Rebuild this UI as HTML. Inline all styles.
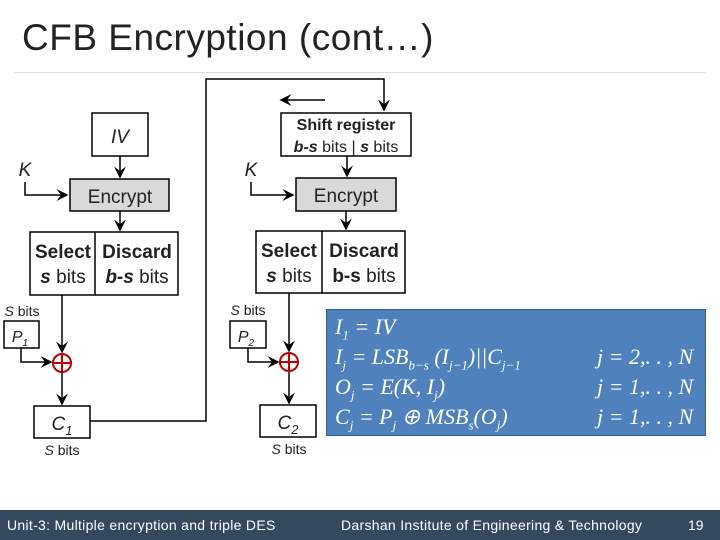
<!DOCTYPE html>
<html><head><meta charset="utf-8"><style>
body{margin:0;width:720px;height:540px;background:#fff;overflow:hidden;position:relative;font-family:"Liberation Sans",sans-serif}
.t{position:absolute;left:22px;top:17px;font-size:37px;color:#222;letter-spacing:0.5px}
.hr{position:absolute;left:15px;top:72px;width:690px;height:1px;background:#ddd}
.ft{position:absolute;left:0;top:510px;width:720px;height:30px;background:#34495e;color:#fff;font-size:14px}
.ft span{position:absolute;top:7px}
.eq{position:absolute;left:326px;top:309px;width:380px;height:127px;background:#4f81bd;border:1px solid #385d8a;color:#fff;font-family:"Liberation Serif",serif;font-style:italic;font-size:22px;line-height:30px;padding:2px 0 0 8px;box-sizing:border-box}
.eq div{position:relative;height:30px}
.eq .r{position:absolute;left:262px}
sub{font-size:13px;line-height:0}
</style></head><body>
<div class="t">CFB Encryption (cont…)</div>
<div class="hr"></div>
<svg width="720" height="510" style="position:absolute;left:0;top:0" font-family="Liberation Sans,sans-serif">
<defs><marker id="a" markerWidth="8" markerHeight="8" refX="7" refY="4" orient="auto"><path d="M0,0 L8,4 L0,8 L3,4 Z" fill="#000"/></marker></defs>
<g stroke="#000" stroke-width="1.5" fill="none">
<rect x="92" y="113" width="56" height="43" fill="#fff"/>
<rect x="70" y="179" width="99" height="32" fill="#d9d9d9"/>
<rect x="30" y="232" width="148" height="63" fill="#fff"/><line x1="95" y1="232" x2="95" y2="295"/>
<rect x="4" y="321" width="35" height="27"/>
<rect x="34" y="406" width="56" height="32"/>
<rect x="281" y="113" width="130" height="43"/>
<rect x="296" y="178" width="100" height="33" fill="#d9d9d9"/>
<rect x="256" y="231" width="149" height="62"/><line x1="322" y1="231" x2="322" y2="293"/>
<rect x="230" y="321" width="36" height="27"/>
<rect x="260" y="405" width="56" height="32"/>
<line x1="120" y1="156" x2="120" y2="177" marker-end="url(#a)"/>
<line x1="120" y1="211" x2="120" y2="230" marker-end="url(#a)"/>
<polyline points="25,182 25,195 67,195" marker-end="url(#a)"/>
<line x1="62" y1="295" x2="62" y2="352" marker-end="url(#a)"/>
<polyline points="21,348 21,362 51,362" marker-end="url(#a)"/>
<line x1="62" y1="372" x2="62" y2="404" marker-end="url(#a)"/>
<polyline points="90,421 206,421 206,79 384,79 384,110" marker-end="url(#a)"/>
<line x1="325" y1="100" x2="281" y2="100" marker-end="url(#a)"/>
<line x1="347" y1="156" x2="347" y2="176" marker-end="url(#a)"/>
<line x1="346" y1="211" x2="346" y2="229" marker-end="url(#a)"/>
<polyline points="251,182 251,195 293,195" marker-end="url(#a)"/>
<line x1="289" y1="293" x2="289" y2="351" marker-end="url(#a)"/>
<polyline points="248,348 248,362 278,362" marker-end="url(#a)"/>
<line x1="289" y1="372" x2="289" y2="403" marker-end="url(#a)"/>
</g>
<g stroke="#c00000" stroke-width="2" fill="none">
<circle cx="62" cy="363" r="9"/><line x1="53" y1="363" x2="71" y2="363"/><line x1="62" y1="354" x2="62" y2="372"/>
<circle cx="289" cy="362" r="9"/><line x1="280" y1="362" x2="298" y2="362"/><line x1="289" y1="353" x2="289" y2="371"/>
</g>
<g fill="#222" font-size="19" text-anchor="middle">
<text x="120" y="143" font-style="italic">IV</text>
<text x="120" y="203">Encrypt</text>
<text x="346" y="202">Encrypt</text>
<text x="346" y="130" font-size="16" font-weight="bold">Shift register</text>
<text x="346" y="152" font-size="16"><tspan font-weight="bold" font-style="italic">b-s</tspan> bits | <tspan font-weight="bold" font-style="italic">s</tspan> bits</text>
<text x="63" y="258" font-weight="bold">Select</text><text x="63" y="283"><tspan font-weight="bold" font-style="italic">s</tspan> bits</text>
<text x="137" y="258" font-weight="bold">Discard</text><text x="137" y="283"><tspan font-weight="bold" font-style="italic">b-s</tspan> bits</text>
<text x="289" y="257" font-weight="bold">Select</text><text x="289" y="282"><tspan font-weight="bold" font-style="italic">s</tspan> bits</text>
<text x="364" y="257" font-weight="bold">Discard</text><text x="364" y="282"><tspan font-weight="bold">b-s</tspan> bits</text>
<text x="25" y="176" font-style="italic">K</text>
<text x="251" y="176" font-style="italic">K</text>
<text x="20" y="342" font-size="16" font-style="italic">P<tspan font-size="10" dy="4">1</tspan></text>
<text x="246" y="342" font-size="16" font-style="italic">P<tspan font-size="10" dy="4">2</tspan></text>
<text x="62" y="430" font-style="italic">C<tspan font-size="13" dy="5">1</tspan></text>
<text x="288" y="429" font-style="italic">C<tspan font-size="13" dy="5">2</tspan></text>
<g font-size="14"><text x="22" y="316"><tspan font-style="italic">S</tspan> bits</text>
<text x="248" y="315"><tspan font-style="italic">S</tspan> bits</text>
<text x="62" y="455"><tspan font-style="italic">S</tspan> bits</text>
<text x="289" y="454"><tspan font-style="italic">S</tspan> bits</text></g>
</g>
</svg>
<div class="eq">
<div>I<sub>1</sub> = IV</div>
<div>I<sub>j</sub> = LSB<sub>b−s</sub> (I<sub>j−1</sub>)||C<sub>j−1</sub><span class="r">j = 2,. . , N</span></div>
<div>O<sub>j</sub> = E(K, I<sub>j</sub>)<span class="r">j = 1,. . , N</span></div>
<div>C<sub>j</sub> = P<sub>j</sub> ⊕ MSB<sub>s</sub>(O<sub>j</sub>)<span class="r">j = 1,. . , N</span></div>
</div>
<div class="ft"><span style="left:7px;letter-spacing:0.3px">Unit-3: Multiple encryption and triple DES</span><span style="left:341px;letter-spacing:0.3px">Darshan Institute of Engineering &amp; Technology</span><span style="left:688px">19</span></div>
</body></html>
